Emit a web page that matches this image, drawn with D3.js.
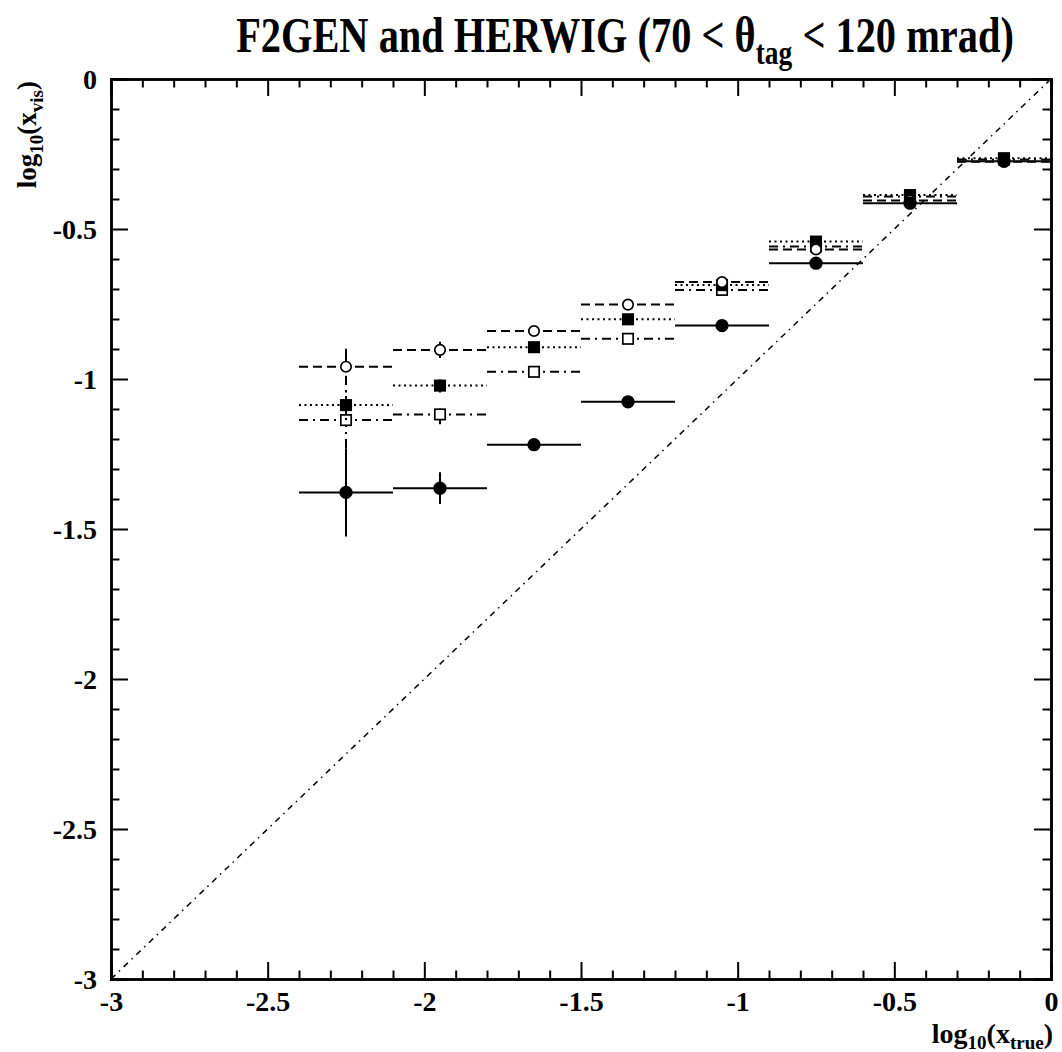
<!DOCTYPE html>
<html>
<head>
<meta charset="utf-8">
<script src="https://cdn.jsdelivr.net/npm/d3@7"></script>
<style>
body { margin: 0; background: #fff; }
svg text { font-family: "Liberation Serif", "Times New Roman", serif; font-weight: bold; fill: #000; }
</style>
</head>
<body>
<div id="chart"></div>
<script>
// bins in log10(x_true)
var binCenters = [-2.25, -1.95, -1.65, -1.35, -1.05, -0.75, -0.45, -0.15]
var binHalf = 0.15

// solid line, filled circles
var solidVals = [-1.378, -1.364, -1.219, -1.076, -0.822, -0.614, -0.414, -0.274]
var solidErr  = [0.147, 0.053, 0.02, 0.008, 0.006, 0.006, 0.006, 0.006]
// dashed line, open circles
var dashedVals = [-0.959, -0.903, -0.840, -0.752, -0.677, -0.568, -0.405, -0.276]
var dashedErr  = [0.06, 0.027, 0.008, 0.006, 0.005, 0.005, 0.005, 0.005]
// dotted line, filled squares
var dottedVals = [-1.087, -1.022, -0.894, -0.801, -0.687, -0.542, -0.387, -0.264]
var dottedErr  = [0.05, 0.023, 0.01, 0.006, 0.005, 0.005, 0.005, 0.005]
// dash-dot line, open squares
var dashdotVals = [-1.137, -1.118, -0.976, -0.866, -0.703, -0.558, -0.392, -0.268]
var dashdotErr  = [0.233, 0.033, 0.017, 0.008, 0.005, 0.005, 0.005, 0.005]

var xMajor = [-3, -2.5, -2, -1.5, -1, -0.5, 0]
var yMajor = [-3, -2.5, -2, -1.5, -1, -0.5, 0]

var margin = {top: 79, right: 11, bottom: 73, left: 111}
var width = 1062 - margin.left - margin.right
var height = 1052 - margin.top - margin.bottom

var svg = d3.select("#chart").append("svg")
    .attr("width", 1062)
    .attr("height", 1052)

var g = svg.append("g")
    .attr("transform", "translate(" + margin.left + "," + margin.top + ")")

var x = d3.scaleLinear().domain([-3, 0]).range([0, width])
var y = d3.scaleLinear().domain([-3, 0]).range([height, 0])

var fmt = function(d){ return d === 0 ? "0" : String(d) }
var minorTicks = d3.range(-30, 1).map(function(i){ return i / 10 })
    .filter(function(v){ return Math.abs(v * 2 - Math.round(v * 2)) > 1e-6 })

// ticks on all four sides, pointing inwards
function drawAxis(axisFn, scale, ticks, transform, size, labels){
    g.append("g").attr("class", "axis").attr("transform", transform)
        .call(axisFn(scale).tickValues(minorTicks).tickSize(-size / 2).tickFormat(""))
    var a = g.append("g").attr("class", "axis").attr("transform", transform)
        .call(axisFn(scale).tickValues(ticks).tickSize(-size).tickPadding(0)
            .tickFormat(labels ? fmt : ""))
    return a
}
var bx = drawAxis(d3.axisBottom, x, xMajor, "translate(0," + height + ")", 17, true)
drawAxis(d3.axisTop, x, xMajor, "translate(0,0)", 17, false)
var ly = drawAxis(d3.axisLeft, y, yMajor, "translate(0,0)", 17, true)
drawAxis(d3.axisRight, y, yMajor, "translate(" + width + ",0)", 17, false)

g.selectAll(".axis path.domain").attr("stroke", "#000").attr("stroke-width", 2.5)
g.selectAll(".axis line").attr("stroke", "#000").attr("stroke-width", 2)
bx.selectAll("text").attr("y", 32).attr("dy", null).style("font-size", "28px")
ly.selectAll("text").attr("x", -14).attr("dy", "0.34em").style("font-size", "28px")

// diagonal y = x
g.append("line")
    .attr("x1", x(-3)).attr("y1", y(-3))
    .attr("x2", x(0)).attr("y2", y(0))
    .attr("stroke", "#000").attr("stroke-width", 1.5)
    .attr("stroke-dasharray", "6,5,1.5,5")

var seriesList = [
    {vals: dashdotVals, err: dashdotErr, dash: "9,5,2,5", marker: "openSquare"},
    {vals: dottedVals, err: dottedErr, dash: "2,3.5", marker: "filledSquare"},
    {vals: dashedVals, err: dashedErr, dash: "9,5", marker: "openCircle"},
    {vals: solidVals, err: solidErr, dash: null, marker: "filledCircle"}
]

seriesList.forEach(function(s){
    var grp = g.append("g")
    var pts = binCenters.map(function(c, i){ return {c: c, v: s.vals[i], e: s.err[i]} })
    // horizontal bin width
    grp.selectAll("line.h").data(pts).enter().append("line")
        .attr("x1", function(d){ return x(d.c - binHalf) })
        .attr("x2", function(d){ return x(d.c + binHalf) })
        .attr("y1", function(d){ return y(d.v) })
        .attr("y2", function(d){ return y(d.v) })
        .attr("stroke", "#000").attr("stroke-width", 2)
        .attr("stroke-dasharray", s.dash)
    // vertical error
    grp.selectAll("line.v").data(pts).enter().append("line")
        .attr("x1", function(d){ return x(d.c) })
        .attr("x2", function(d){ return x(d.c) })
        .attr("y1", function(d){ return y(d.v - d.e) })
        .attr("y2", function(d){ return y(d.v + d.e) })
        .attr("stroke", "#000").attr("stroke-width", 2)
        .attr("stroke-dasharray", s.dash)
    if(s.marker === "filledCircle" || s.marker === "openCircle"){
        grp.selectAll("circle").data(pts).enter().append("circle")
            .attr("cx", function(d){ return x(d.c) })
            .attr("cy", function(d){ return y(d.v) })
            .attr("r", s.marker === "filledCircle" ? 5.8 : 5.2)
            .attr("fill", s.marker === "filledCircle" ? "#000" : "#fff")
            .attr("stroke", "#000").attr("stroke-width", 1.7)
    } else {
        grp.selectAll("rect").data(pts).enter().append("rect")
            .attr("x", function(d){ return x(d.c) - 5.2 })
            .attr("y", function(d){ return y(d.v) - 5.2 })
            .attr("width", 10.4).attr("height", 10.4)
            .attr("fill", s.marker === "filledSquare" ? "#000" : "#fff")
            .attr("stroke", "#000").attr("stroke-width", 1.7)
    }
})

// title, squeezed horizontally like the original font
var titleCx = 625
var title = svg.append("text")
    .attr("x", titleCx).attr("y", 52)
    .attr("text-anchor", "middle")
    .style("font-size", "50px")
title.append("tspan").text("F2GEN and HERWIG (70 < θ")
title.append("tspan").attr("dy", 12).style("font-size", "34px").text("tag")
title.append("tspan").attr("dy", -12).text(" < 120 mrad)")
var tw = title.node().getComputedTextLength()
var sx = 778 / tw
title.attr("transform", "translate(" + titleCx + ",0) scale(" + sx + ",1) translate(" + (-titleCx) + ",0)")

// x axis title
var xt = svg.append("text")
    .attr("x", margin.left + width + 2).attr("y", 1043)
    .attr("text-anchor", "end")
    .style("font-size", "28px")
xt.append("tspan").text("log")
xt.append("tspan").attr("dy", 6).style("font-size", "19px").text("10")
xt.append("tspan").attr("dy", -6).text("(x")
xt.append("tspan").attr("dy", 6).style("font-size", "19px").text("true")
xt.append("tspan").attr("dy", -6).text(")")

// y axis title
var yt = svg.append("text")
    .attr("transform", "translate(36," + (margin.top + 2) + ") rotate(-90)")
    .attr("text-anchor", "end")
    .style("font-size", "27px")
yt.append("tspan").text("log")
yt.append("tspan").attr("dy", 7).style("font-size", "19px").text("10")
yt.append("tspan").attr("dy", -7).text("(x")
yt.append("tspan").attr("dy", 7).style("font-size", "19px").text("vis")
yt.append("tspan").attr("dy", -7).text(")")
</script>
</body>
</html>
